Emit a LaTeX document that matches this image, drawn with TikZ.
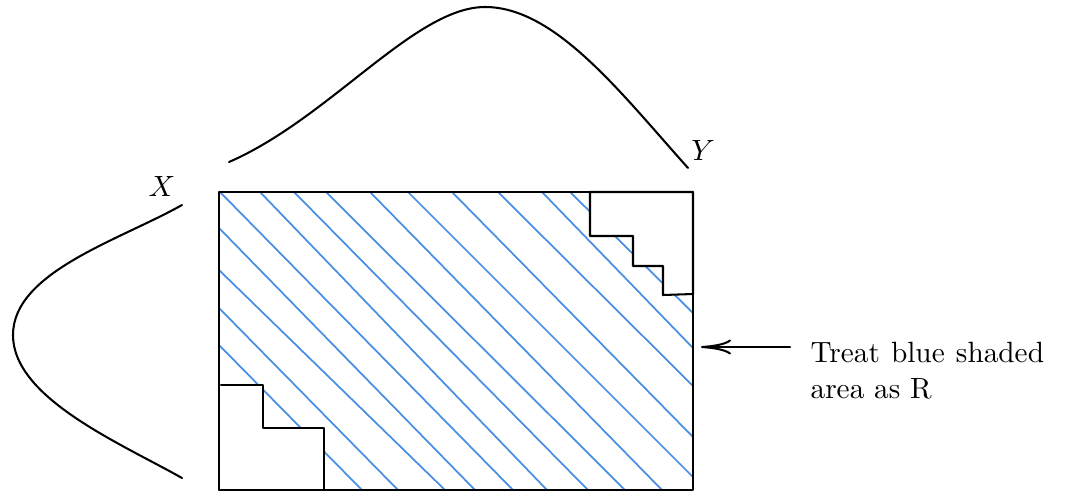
\documentclass[tikz,border=0pt]{standalone}
\usetikzlibrary{arrows.meta}
\definecolor{hatchblue}{RGB}{74,144,226}
\begin{document}
\begin{tikzpicture}[x=0.012cm, y=-0.012cm, line cap=round, line join=round,
    hatch/.style={hatchblue, line width=0.6pt},
    edge/.style={black, line width=0.7pt},
    curve/.style={black, line width=0.7pt},
    note/.style={anchor=north west, inner sep=0pt, text width=2.8cm, align=justify}]
  \useasboundingbox (0,0) rectangle (1068,492);
  % hatching of R (drawn first, the corners are covered below)
  \foreach \xa/\ya/\xb/\yb in {220/192/513/490, 260/192/547/490, 294/192/588/490,
      326/192/625/490, 370/192/662/490, 408/192/693/477, 452/192/693/437,
      498/192/693/386, 542/192/693/348, 570/192/693/313,
      219/228/475/490, 219/270/445/490, 219/308/398/490, 219/345/362/490} {
    \draw[hatch] (\xa,\ya) -- (\xb,\yb);
  }
  % staircase corners, not part of R
  \draw[edge, fill=white] (590,192) -- (590,236) -- (633,236) -- (633,266) -- (663,266)
    -- (663,295) -- (693,294) -- (693,192) -- cycle;
  \draw[edge, fill=white] (221,385) -- (263,385) -- (263,428) -- (324,428) -- (324,490)
    -- (219,490) -- (219,385);
  % outer rectangle
  \draw[edge] (219,192) rectangle (693,490);
  % marginal curves
  \draw[curve] (229,162) .. controls (330,118) and (415,7) .. (485,7)
    .. controls (555,7) and (620,92) .. (688,168);
  \draw[curve] (182,205) .. controls (120,240) and (13,272) .. (13,335)
    .. controls (13,398) and (120,443) .. (182,478);
  \node (labX) at (162,186) {$X$};
  \node (labY) at (703,150) {$Y$};
  % remark
  \node[note] (remark) at (810,342) {Treat blue shaded area as R};
  \coordinate (arrowstart) at (790,347);
  \coordinate (arrowend) at (701,347);
  \draw[edge, -{To[length=3.6mm, width=1.8mm]}] (arrowstart) -- (arrowend);
\end{tikzpicture}
\end{document}
